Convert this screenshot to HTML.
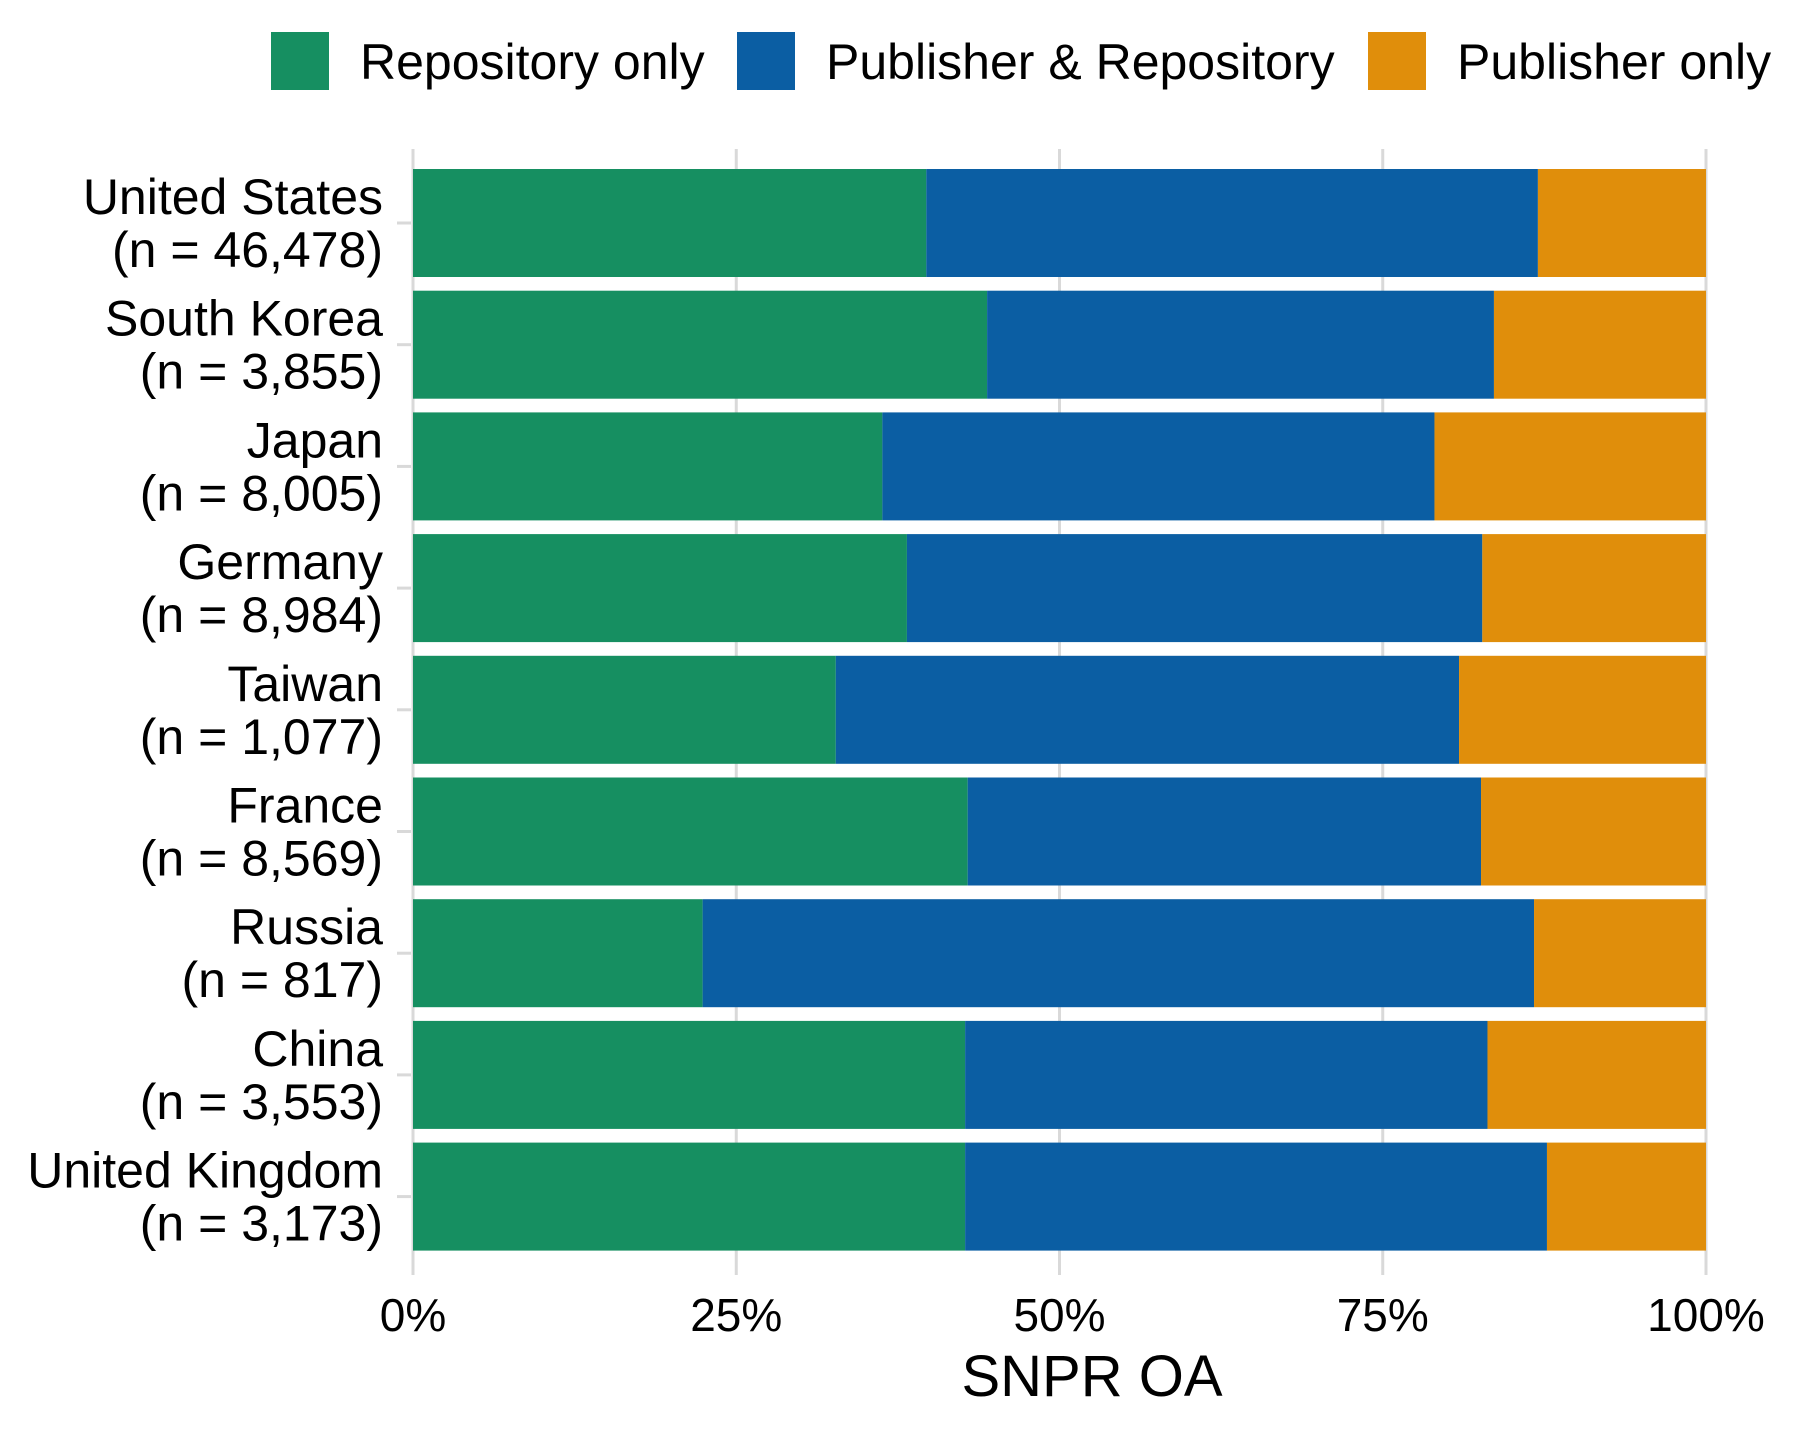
<!DOCTYPE html>
<html><head><meta charset="utf-8"><style>
html,body{margin:0;padding:0;background:#fff;}
svg{display:block;font-family:"Liberation Sans",Arial,sans-serif;}
</style></head><body>
<svg id="chart" width="1800" height="1440" viewBox="0 0 1800 1440">
<g id="legend"></g>
<g id="grid"></g>
<g id="bars"></g>
<g id="ylabels"></g>
<g id="xlabels"></g>
<text x="1092" y="1396" font-size="58" text-anchor="middle" fill="#000">SNPR OA</text>
</svg>
<script>
const countries = ["United States","South Korea","Japan","Germany","Taiwan","France","Russia","China","United Kingdom"];
const counts = ["46,478","3,855","8,005","8,984","1,077","8,569","817","3,553","3,173"];
const repositoryOnly = [39.7,44.4,36.3,38.2,32.7,42.9,22.4,42.7,42.7];
const publisherRepository = [47.3,39.2,42.7,44.5,48.2,39.7,64.3,40.4,45.0];
const publisherOnly = [13.0,16.4,21.0,17.3,19.1,17.4,13.3,16.9,12.3];
const xTicks = [0,25,50,75,100];
const xTickLabels = ["0%","25%","50%","75%","100%"];
const seriesNames = ["Repository only","Publisher & Repository","Publisher only"];

const NS="http://www.w3.org/2000/svg";
const colors=["#168f61","#0b5ea3","#e08e0b"];
const X0=413,X1=1706,panelTop=149,panelBot=1263,pitch=121.7,barH=108,firstTop=169;
function xs(v){return X0+(X1-X0)*v/100;}
function yTop(i){return firstTop+i*pitch;}
function mk(tag,attrs,parent){const e=document.createElementNS(NS,tag);for(const k in attrs)e.setAttribute(k,attrs[k]);parent.appendChild(e);return e;}

const grid=document.getElementById('grid');
xTicks.forEach((t,i)=>{
  const l=mk('line',{x1:xs(t),x2:xs(t),y1:panelTop,y2:panelBot+12,stroke:"#d9d9d9","stroke-width":3},grid);
  
  
  const tx=mk('text',{x:xs(t),y:1331,"font-size":46,"text-anchor":"middle",fill:"#000"},document.getElementById('xlabels'));
  tx.textContent=xTickLabels[i];
  
  
});

const bars=document.getElementById('bars'),yl=document.getElementById('ylabels');
const series=[repositoryOnly,publisherRepository,publisherOnly];
countries.forEach((c,i)=>{
  let cum=0;
  series.forEach((s,k)=>{
    const v=s[i];
    const r=mk('rect',{x:xs(cum),y:yTop(i),width:xs(cum+v)-xs(cum),height:barH,fill:colors[k]},bars);
    
    
    cum+=v;
  });
  const cy=yTop(i)+barH/2;
  const tk=mk('line',{x1:397,x2:411,y1:cy,y2:cy,stroke:"#d9d9d9","stroke-width":3},yl);
  
  
  const t1=mk('text',{x:383,y:cy-9,"font-size":50,"text-anchor":"end",fill:"#000"},yl);
  t1.textContent=c;
  
  
  const t2=mk('text',{x:383,y:cy+44,"font-size":50,"text-anchor":"end",fill:"#000"},yl);
  t2.textContent="(n = "+counts[i]+")";
  
  
});

const lg=document.getElementById('legend');
const lx=[271,737,1368];
seriesNames.forEach((n,k)=>{
  const r=mk('rect',{x:lx[k],y:32,width:58,height:58,fill:colors[k]},lg);
  
  
  const t=mk('text',{x:lx[k]+89,y:79,"font-size":50,fill:"#000"},lg);
  t.textContent=n;
  
  
});
</script>
</body></html>
